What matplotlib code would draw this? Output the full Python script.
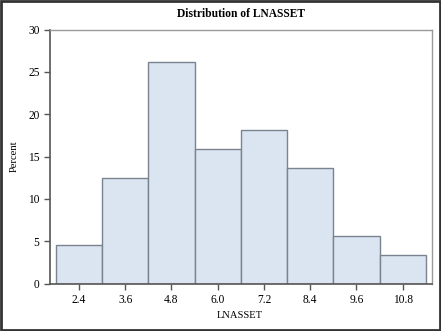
import matplotlib
matplotlib.use("Agg")
import matplotlib.pyplot as plt
from matplotlib.patches import Rectangle

# histogram bins (midpoints) and percent per bin
midpoints = [2.4, 3.6, 4.8, 6.0, 7.2, 8.4, 9.6, 10.8]
percent = [4.55, 12.50, 26.14, 15.91, 18.18, 13.64, 5.68, 3.41]
bin_width = 1.2
tick_labels = ["2.4", "3.6", "4.8", "6.0", "7.2", "8.4", "9.6", "10.8"]
y_ticks = [0, 5, 10, 15, 20, 25, 30]

plt.rcParams["font.family"] = ["Liberation Serif", "DejaVu Serif"]

fig = plt.figure(figsize=(4.41, 3.31), dpi=100)
ax = fig.add_axes([50 / 441, 1 - 283.7 / 331, (432 - 50) / 441, (283.7 - 29.5) / 331])

ax.bar(midpoints, percent, width=bin_width, color="#dbe5f1",
       edgecolor="#7a8490", linewidth=1.0, zorder=2)

ax.set_xlim(1.65, 11.56)
ax.set_ylim(0, 30)
ax.set_xticks(midpoints)
ax.set_xticklabels(tick_labels)
ax.set_yticks(y_ticks)
ax.tick_params(labelsize=8.3, length=4, width=1, color="#555555", pad=3.5)

for side in ["top", "right"]:
    ax.spines[side].set_color("#999999")
    ax.spines[side].set_linewidth(1)
for side in ["left", "bottom"]:
    ax.spines[side].set_color("#555555")
    ax.spines[side].set_linewidth(1.2)

ax.set_xlabel("LNASSET", fontsize=7.6, va="center")
ax.set_ylabel("Percent", fontsize=7.6, va="center")
ax.xaxis.set_label_coords(0.497, -0.127)
ax.yaxis.set_label_coords(-0.094, 0.50)
fig.text(0.5 * (50 + 432) / 441, 1 - 14 / 331, "Distribution of LNASSET",
         ha="center", va="center", fontsize=8.3, fontweight="bold")

# dark frame round the whole image
fig.patches.append(Rectangle((0.002, 0.003), 0.996, 0.994, transform=fig.transFigure,
                             fill=False, edgecolor="#333333", linewidth=2))

fig.savefig("out.png", dpi=100)
